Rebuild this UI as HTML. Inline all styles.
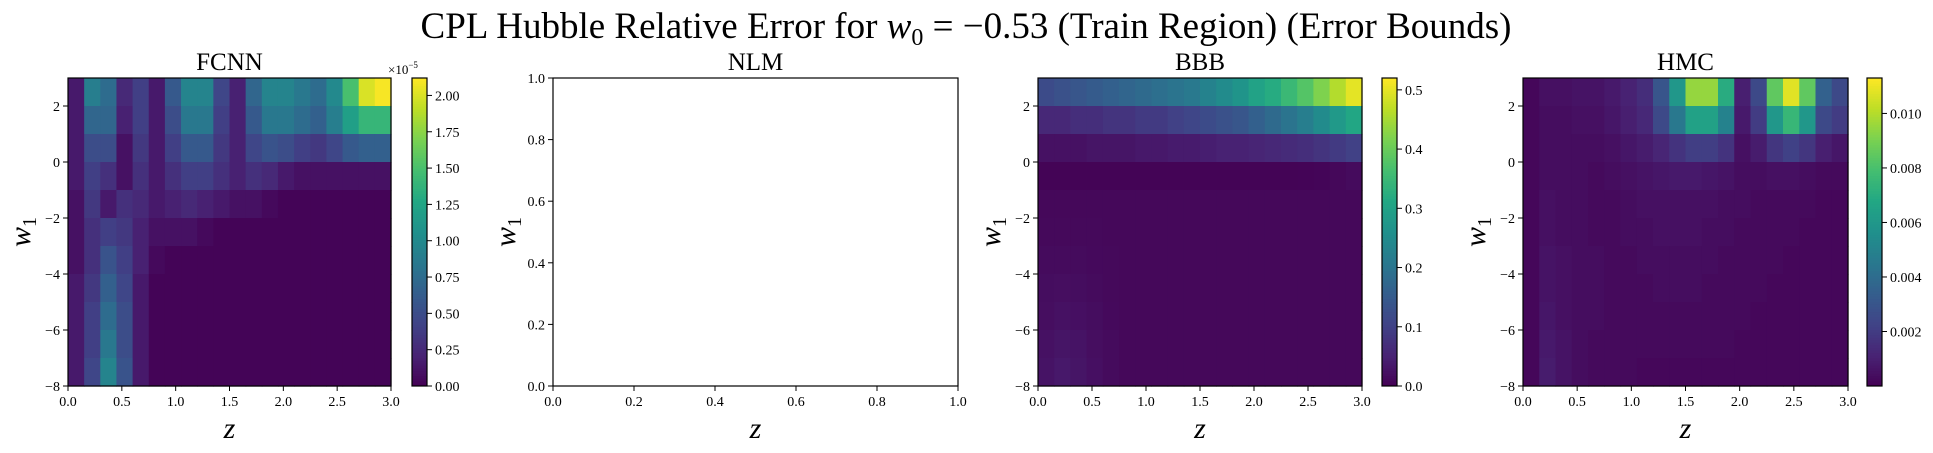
<!DOCTYPE html>
<html><head><meta charset="utf-8"><style>
html,body{margin:0;padding:0;background:#fff;}
svg text{font-family:"Liberation Serif","DejaVu Serif",serif;fill:#000;}
</style></head><body>
<svg id="fig" width="1933" height="448" viewBox="0 0 1933 448" xmlns="http://www.w3.org/2000/svg">
<text x="966" y="38" font-size="37" text-anchor="middle">CPL Hubble Relative Error for <tspan font-style="italic">w</tspan><tspan font-size="24" dy="7">0</tspan><tspan dy="-7"> = −0.53 (Train Region) (Error Bounds)</tspan></text>
</svg>
<script>
// ---- data ----
const zEdges = [0,0.15,0.3,0.45,0.6,0.75,0.9,1.05,1.2,1.35,1.5,1.65,1.8,1.95,2.1,2.25,2.4,2.55,2.7,2.85,3.0];
const w1Edges = [3,2,1,0,-1,-2,-3,-4,-5,-6,-7,-8];
const xTicks = [0,0.5,1,1.5,2,2.5,3];
const xTickLabels = ["0.0","0.5","1.0","1.5","2.0","2.5","3.0"];
const yTicks = [2,0,-2,-4,-6,-8];
const yTickLabels = ["2","0","−2","−4","−6","−8"];
const nlmTicks = [0,0.2,0.4,0.6,0.8,1.0];
const nlmTickLabels = ["0.0","0.2","0.4","0.6","0.8","1.0"];
// FCNN values in units of 1e-5
const fcnnValues = [
[0.15,0.9,0.75,0.25,0.4,0.15,0.6,0.95,0.95,0.45,0.2,0.7,0.95,0.95,0.85,0.75,1.0,1.5,2.0,2.1],
[0.15,0.7,0.7,0.2,0.4,0.15,0.5,0.85,0.85,0.4,0.2,0.6,0.85,0.85,0.75,0.65,0.9,1.2,1.4,1.4],
[0.15,0.5,0.5,0.1,0.35,0.15,0.4,0.6,0.6,0.35,0.2,0.45,0.55,0.5,0.4,0.35,0.45,0.6,0.65,0.65],
[0.15,0.4,0.3,0.1,0.3,0.15,0.3,0.4,0.4,0.3,0.2,0.3,0.25,0.15,0.1,0.1,0.1,0.1,0.1,0.1],
[0.1,0.35,0.15,0.3,0.25,0.15,0.2,0.25,0.2,0.15,0.1,0.1,0.05,0.02,0.02,0.02,0.02,0.02,0.02,0.02],
[0.1,0.3,0.4,0.35,0.2,0.1,0.1,0.1,0.05,0.02,0.02,0.02,0.02,0.02,0.02,0.02,0.02,0.02,0.02,0.02],
[0.1,0.3,0.55,0.4,0.2,0.05,0.02,0.02,0.02,0.02,0.02,0.02,0.02,0.02,0.02,0.02,0.02,0.02,0.02,0.02],
[0.15,0.35,0.65,0.45,0.15,0.02,0.02,0.02,0.02,0.02,0.02,0.02,0.02,0.02,0.02,0.02,0.02,0.02,0.02,0.02],
[0.15,0.4,0.75,0.5,0.15,0.02,0.02,0.02,0.02,0.02,0.02,0.02,0.02,0.02,0.02,0.02,0.02,0.02,0.02,0.02],
[0.15,0.4,0.85,0.5,0.15,0.02,0.02,0.02,0.02,0.02,0.02,0.02,0.02,0.02,0.02,0.02,0.02,0.02,0.02,0.02],
[0.15,0.45,0.95,0.55,0.15,0.02,0.02,0.02,0.02,0.02,0.02,0.02,0.02,0.02,0.02,0.02,0.02,0.02,0.02,0.02]];
const fcnnTicks = [0,0.25,0.5,0.75,1.0,1.25,1.5,1.75,2.0];
const fcnnTickLabels = ["0.00","0.25","0.50","0.75","1.00","1.25","1.50","1.75","2.00"];
const bbbValues = [
[0.12,0.13,0.14,0.15,0.16,0.17,0.18,0.19,0.2,0.21,0.23,0.25,0.27,0.3,0.32,0.35,0.38,0.42,0.46,0.5],
[0.06,0.06,0.07,0.07,0.08,0.08,0.09,0.09,0.1,0.11,0.12,0.13,0.14,0.16,0.18,0.2,0.22,0.25,0.28,0.31],
[0.025,0.025,0.025,0.03,0.03,0.03,0.035,0.035,0.04,0.04,0.045,0.05,0.05,0.055,0.06,0.065,0.07,0.08,0.09,0.1],
[0.004,0.004,0.004,0.004,0.004,0.004,0.004,0.004,0.004,0.004,0.004,0.004,0.004,0.004,0.004,0.004,0.005,0.006,0.01,0.015],
[0.01,0.01,0.01,0.01,0.01,0.01,0.01,0.01,0.01,0.01,0.01,0.01,0.01,0.01,0.01,0.01,0.01,0.01,0.01,0.01],
[0.012,0.012,0.012,0.012,0.01,0.01,0.01,0.01,0.01,0.01,0.01,0.01,0.01,0.01,0.01,0.01,0.01,0.01,0.01,0.01],
[0.015,0.015,0.015,0.013,0.012,0.01,0.01,0.01,0.01,0.01,0.01,0.01,0.01,0.01,0.01,0.01,0.01,0.01,0.01,0.01],
[0.018,0.02,0.018,0.015,0.012,0.01,0.01,0.01,0.01,0.01,0.01,0.01,0.01,0.01,0.01,0.01,0.01,0.01,0.01,0.01],
[0.02,0.025,0.022,0.018,0.013,0.01,0.01,0.01,0.01,0.01,0.01,0.01,0.01,0.01,0.01,0.01,0.01,0.01,0.01,0.01],
[0.025,0.03,0.028,0.02,0.015,0.01,0.01,0.01,0.01,0.01,0.01,0.01,0.01,0.01,0.01,0.01,0.01,0.01,0.01,0.01],
[0.028,0.035,0.03,0.022,0.015,0.01,0.01,0.01,0.01,0.01,0.01,0.01,0.01,0.01,0.01,0.01,0.01,0.01,0.01,0.01]];
const bbbTicks = [0,0.1,0.2,0.3,0.4,0.5];
const bbbTickLabels = ["0.0","0.1","0.2","0.3","0.4","0.5"];
// HMC values in units of 1e-3
const hmcValues = [
[0.2,0.5,0.5,0.6,0.6,0.8,1.1,1.5,3.0,6.0,9.5,9.5,7.0,1.0,2.5,8.5,10.8,8.5,3.5,2.5],
[0.2,0.4,0.4,0.5,0.5,0.7,1.0,1.3,2.5,4.5,6.5,6.5,5.0,0.8,2.0,6.0,7.5,6.0,2.5,2.0],
[0.2,0.4,0.4,0.4,0.4,0.5,0.7,0.9,1.2,1.7,2.1,2.1,1.7,0.5,0.9,1.8,2.2,1.8,1.0,0.7],
[0.2,0.4,0.4,0.4,0.3,0.4,0.5,0.6,0.7,0.8,0.8,0.7,0.6,0.4,0.4,0.5,0.5,0.4,0.3,0.3],
[0.2,0.5,0.4,0.4,0.3,0.3,0.4,0.5,0.5,0.5,0.5,0.5,0.4,0.4,0.3,0.3,0.3,0.3,0.2,0.2],
[0.2,0.5,0.4,0.4,0.3,0.3,0.4,0.4,0.5,0.5,0.5,0.4,0.4,0.3,0.3,0.3,0.3,0.2,0.2,0.2],
[0.2,0.6,0.5,0.4,0.4,0.3,0.3,0.4,0.4,0.4,0.4,0.4,0.3,0.3,0.3,0.3,0.2,0.2,0.2,0.2],
[0.2,0.6,0.5,0.4,0.4,0.3,0.3,0.3,0.4,0.4,0.4,0.3,0.3,0.3,0.3,0.2,0.2,0.2,0.2,0.2],
[0.2,0.7,0.5,0.4,0.4,0.3,0.3,0.3,0.3,0.3,0.3,0.3,0.3,0.3,0.2,0.2,0.2,0.2,0.2,0.2],
[0.2,0.8,0.6,0.4,0.3,0.3,0.3,0.3,0.3,0.3,0.3,0.3,0.3,0.2,0.2,0.2,0.2,0.2,0.2,0.2],
[0.2,0.9,0.6,0.4,0.3,0.3,0.3,0.2,0.2,0.2,0.2,0.2,0.2,0.2,0.2,0.2,0.2,0.2,0.2,0.2]];
const hmcTicks = [2,4,6,8,10];
const hmcTickLabels = ["0.002","0.004","0.006","0.008","0.010"];

// ---- rendering ----
const NS = "http://www.w3.org/2000/svg";
const svg = document.getElementById('fig');
function mk(tag, attrs, parent){const e=document.createElementNS(NS,tag);for(const k in attrs)e.setAttribute(k,attrs[k]);(parent||svg).appendChild(e);return e;}
const VIR=[[68,1,84],[72,35,116],[64,67,135],[52,94,141],[41,120,142],[32,144,140],[34,167,132],[68,190,112],[121,209,81],[189,222,38],[253,231,37]];
function viridis(t){t=Math.max(0,Math.min(1,t));const f=t*10,i=Math.min(9,Math.floor(f)),r=f-i;const a=VIR[i],b=VIR[i+1];return `rgb(${Math.round(a[0]+(b[0]-a[0])*r)},${Math.round(a[1]+(b[1]-a[1])*r)},${Math.round(a[2]+(b[2]-a[2])*r)})`;}

const TOP=78, BOT=386;
function axesFrame(x0,w,title,name){
  const t=mk('text',{x:x0+w/2,y:70,'font-size':25,'text-anchor':'middle'});t.textContent=title;
  
  
  const zl=mk('text',{x:x0+w/2,y:438,'font-size':30,'font-style':'italic','text-anchor':'middle'});zl.textContent='z';
  
  
  const wl=mk('text',{x:0,y:0,'font-size':30,'text-anchor':'middle',transform:`translate(${x0-38},${(TOP+BOT)/2}) rotate(-90)`});
  wl.innerHTML='<tspan font-style="italic">w</tspan><tspan font-size="20" dy="6">1</tspan>';
  
  
}
function ticksX(x0,w,vals,labels,lo,hi,name){
  vals.forEach((v,i)=>{const x=x0+(v-lo)/(hi-lo)*w;
    mk('line',{x1:x,x2:x,y1:BOT,y2:BOT+5,stroke:'#000','stroke-width':1});
    const t=mk('text',{x:x,y:BOT+20,'font-size':14,'text-anchor':'middle'});t.textContent=labels[i];
    
    });
}
function ticksY(x0,vals,labels,lo,hi,name){
  vals.forEach((v,i)=>{const y=BOT-(v-lo)/(hi-lo)*(BOT-TOP);
    mk('line',{x1:x0-5,x2:x0,y1:y,y2:y,stroke:'#000','stroke-width':1});
    const t=mk('text',{x:x0-8,y:y+5,'font-size':14,'text-anchor':'end'});t.textContent=labels[i];
    
    });
}
function heatmap(x0,w,vals,vmax,name){
  const g=mk('g',{});
  
  
  const xs=z=>x0+(z-zEdges[0])/(zEdges[zEdges.length-1]-zEdges[0])*w;
  const ys=v=>TOP+(w1Edges[0]-v)/(w1Edges[0]-w1Edges[w1Edges.length-1])*(BOT-TOP);
  vals.forEach((row,r)=>row.forEach((v,c)=>{
    const x1=xs(zEdges[c]),x2=xs(zEdges[c+1]),y1=ys(w1Edges[r]),y2=ys(w1Edges[r+1]);
    const rc=mk('rect',{x:x1,y:y1,width:x2-x1+0.6,height:y2-y1+0.6,fill:viridis(v/vmax)},g);
    
    
  }));
  const f=mk('rect',{x:x0,y:TOP,width:w,height:BOT-TOP,fill:'none',stroke:'#000','stroke-width':1.2});
  
  
  ticksX(x0,w,xTicks,xTickLabels,0,3,name);
  ticksY(x0,yTicks,yTickLabels,-8,3,name);
}
function colorbar(x0,w,vmax,ticks,labels,name){
  const g=mk('g',{});
  
  
  const n=120,h=(BOT-TOP)/n;
  for(let i=0;i<n;i++){mk('rect',{x:x0,y:BOT-(i+1)*h,width:w,height:h+0.5,fill:viridis((i+0.5)/n)},g);}
  mk('rect',{x:x0,y:TOP,width:w,height:BOT-TOP,fill:'none',stroke:'#000','stroke-width':1.2},g);
  ticks.forEach((v,i)=>{const y=BOT-v/vmax*(BOT-TOP);
    mk('line',{x1:x0+w,x2:x0+w+5,y1:y,y2:y,stroke:'#000'},g);
    const t=mk('text',{x:x0+w+8,y:y+5,'font-size':14},g);t.textContent=labels[i];
    
    });
}

// FCNN
axesFrame(68,323,'FCNN','fcnn');
heatmap(68,323,fcnnValues,2.12,'fcnn');
colorbar(412,15,2.12,fcnnTicks,fcnnTickLabels,'fcnn');
const ex=mk('text',{x:388,y:74,'font-size':13});ex.innerHTML='×10<tspan font-size="9" dy="-6">−5</tspan>';



// NLM (empty)
axesFrame(553,405,'NLM','nlm');
const nf=mk('rect',{x:553,y:TOP,width:405,height:BOT-TOP,fill:'#fff',stroke:'#000','stroke-width':1.2});


ticksX(553,405,nlmTicks,nlmTickLabels,0,1,'nlm');
ticksY(553,nlmTicks,nlmTickLabels,0,1,'nlm');

// BBB
axesFrame(1038,324,'BBB','bbb');
heatmap(1038,324,bbbValues,0.52,'bbb');
colorbar(1382,15,0.52,bbbTicks,bbbTickLabels,'bbb');

// HMC
axesFrame(1523,325,'HMC','hmc');
heatmap(1523,325,hmcValues,11.3,'hmc');
colorbar(1867,15,11.3,hmcTicks,hmcTickLabels,'hmc');
</script>
</body></html>
